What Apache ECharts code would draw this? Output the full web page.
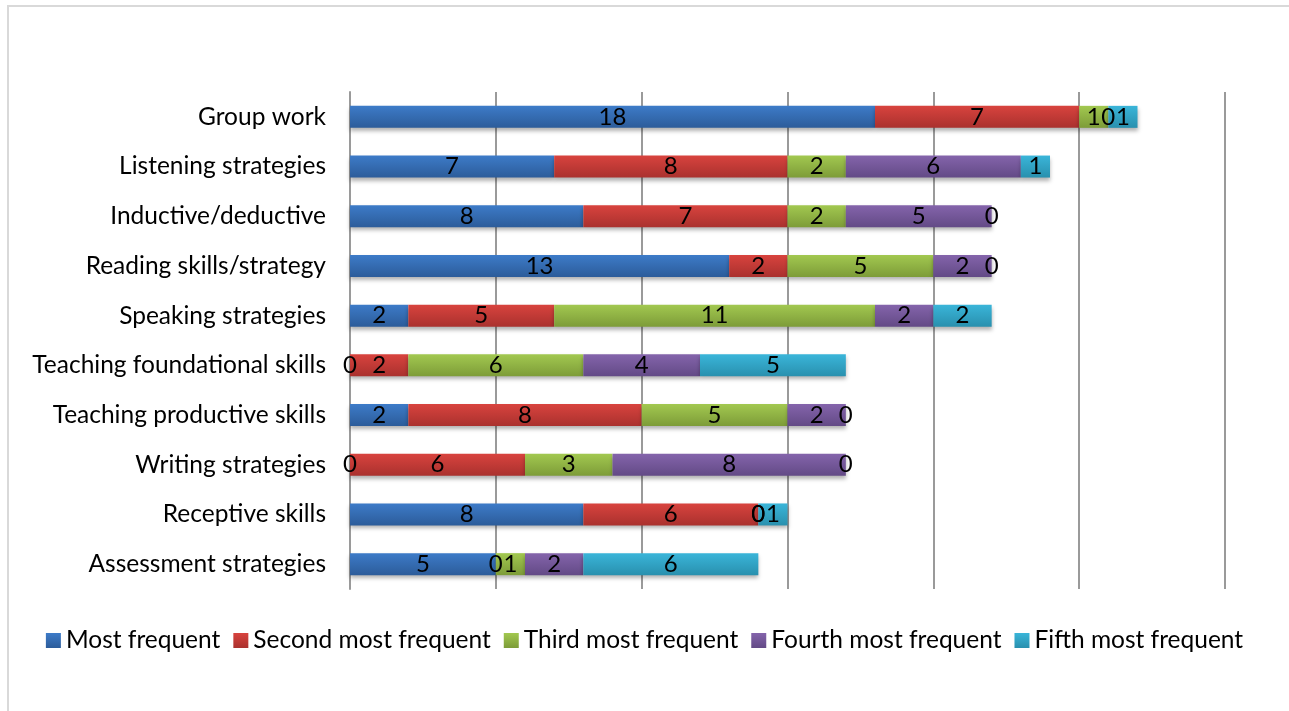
<!DOCTYPE html>
<html>
<head>
<meta charset="utf-8">
<script src="https://cdn.jsdelivr.net/npm/echarts@6/dist/echarts.min.js"></script>
<style>
html, body { margin: 0; padding: 0; background: #fff; }
#chart { width: 1289px; height: 711px; }
</style>
</head>
<body>
<div id="chart"></div>
<script>
// Teaching practices, ranked by how often they are used
const categories = [
  'Group work', 'Listening strategies', 'Inductive/deductive', 'Reading skills/strategy',
  'Speaking strategies', 'Teaching foundational skills', 'Teaching productive skills',
  'Writing strategies', 'Receptive skills', 'Assessment strategies'
];
const seriesNames = ['Most frequent', 'Second most frequent', 'Third most frequent', 'Fourth most frequent', 'Fifth most frequent'];
const mostFrequent   = [18, 7, 8, 13, 2, 0, 2, 0, 8, 5];
const secondFrequent = [7, 8, 7, 2, 5, 2, 8, 6, 6, 0];
const thirdFrequent  = [1, 2, 2, 5, 11, 6, 5, 3, 0, 1];
const fourthFrequent = [0, 6, 5, 2, 2, 4, 2, 8, 0, 2];
const fifthFrequent  = [1, 1, 0, 0, 2, 5, 0, 0, 1, 6];
const valueTicks = { min: 0, max: 30, interval: 5 };

const seriesData = [mostFrequent, secondFrequent, thirdFrequent, fourthFrequent, fifthFrequent];
const palette = [
  ['#3d7bc8', '#2c5c9a'],
  ['#d8433e', '#aa312e'],
  ['#a2c850', '#7d9c38'],
  ['#8464ab', '#634a86'],
  ['#3ab5d9', '#2990ae']
];

const font = 'Lato, "Open Sans", sans-serif';

function grad(c) {
  return new echarts.graphic.LinearGradient(0, 0, 0, 1, [
    { offset: 0, color: c[0] },
    { offset: 1, color: c[1] }
  ]);
}

const chart = echarts.init(document.getElementById('chart'));
chart.setOption({
  backgroundColor: '#fff',
  animation: false,
  graphic: [{
    type: 'rect',
    shape: { x: 8, y: 6, width: 1300, height: 720 },
    style: { fill: 'none', stroke: '#d9d9d9', lineWidth: 2 },
    silent: true,
    z: -1
  }],
  grid: { left: 350, right: 64, top: 92, bottom: 122, containLabel: false },
  legend: {
    bottom: 53,
    left: 'center',
    itemWidth: 15,
    itemHeight: 15,
    itemGap: 13,
    icon: 'rect',
    textStyle: { fontFamily: font, fontSize: 24.5, color: '#000' },
    data: seriesNames
  },
  xAxis: {
    type: 'value',
    min: valueTicks.min,
    max: valueTicks.max,
    interval: valueTicks.interval,
    axisLabel: { show: false },
    axisLine: { show: false },
    axisTick: { show: false },
    splitLine: { show: true, lineStyle: { color: '#9a9a9a', width: 2 } }
  },
  yAxis: {
    type: 'category',
    data: categories,
    inverse: true,
    axisLine: { show: true, lineStyle: { color: '#9a9a9a', width: 2 } },
    axisTick: { show: false },
    axisLabel: { fontFamily: font, fontSize: 24.5, color: '#000', margin: 24 }
  },
  series: seriesData.map((d, i) => ({
    name: seriesNames[i],
    type: 'bar',
    stack: 'rank',
    barWidth: 22,
    data: d,
    itemStyle: {
      color: grad(palette[i]),
      shadowBlur: 4,
      shadowOffsetY: 3,
      shadowColor: 'rgba(0,0,0,0.3)'
    },
    label: {
      show: true,
      position: 'inside',
      fontFamily: font,
      fontSize: 24,
      color: '#000'
    }
  }))
});
</script>
</body>
</html>
